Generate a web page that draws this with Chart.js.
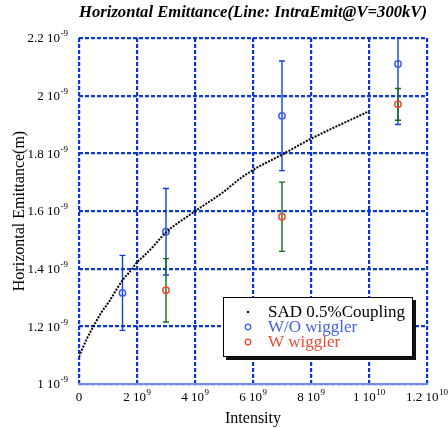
<!DOCTYPE html>
<html><head><meta charset="utf-8">
<script src="https://cdn.jsdelivr.net/npm/chart.js@4/dist/chart.umd.min.js"></script>
<style>html,body{margin:0;padding:0;background:#fff;}canvas{display:block;}</style>
</head><body>
<canvas id="c" width="448" height="428"></canvas>
<script>
// Units: x in 1e9, y in 1e-9 m
const titleText = 'Horizontal Emittance(Line: IntraEmit@V=300kV)';
const xAxisTitle = 'Intensity';
const yAxisTitle = 'Horizontal Emittance(m)';
const xTickValues = [0, 2, 4, 6, 8, 10, 12];
const xTickLabels = ['0', '2 10^9', '4 10^9', '6 10^9', '8 10^9', '1 10^10', '1.2 10^10'];
const yTickValues = [1.0, 1.2, 1.4, 1.6, 1.8, 2.0, 2.2];
const yTickLabels = ['1 10^-9', '1.2 10^-9', '1.4 10^-9', '1.6 10^-9', '1.8 10^-9', '2 10^-9', '2.2 10^-9'];

const sadLabel = 'SAD 0.5%Coupling';
const sadX = [0.0, 0.27, 0.47, 0.79, 1.04, 1.30, 1.53, 1.76, 1.99, 2.28, 2.56, 2.97, 3.94, 4.98, 5.55, 6.01, 6.99, 7.99, 9.98];
const sadY = [1.095, 1.157, 1.195, 1.251, 1.286, 1.329, 1.364, 1.390, 1.421, 1.448, 1.477, 1.523, 1.595, 1.666, 1.712, 1.743, 1.795, 1.850, 1.945];

const woLabel = 'W/O wiggler';
const woX = [1.5, 3, 7, 11];
const woY = [1.316, 1.528, 1.930, 2.110];
const woErr = [0.13, 0.15, 0.19, 0.21];

const wLabel = 'W wiggler';
const wX = [3, 7, 11];
const wY = [1.325, 1.580, 1.970];
const wErr = [0.11, 0.12, 0.055];

const FONT = "'Liberation Serif', 'Times New Roman', serif";
const gridBlue = '#0836d8';
const woColor = '#4060ee';
const wColor = '#f04a30';
const woBarColor = '#1040e0';
const wBarColor = '#127012';

const errorBars = {
  id: 'errorBars',
  beforeDatasetsDraw(chart) {
    const {ctx, chartArea: a, scales: {x, y}} = chart;
    ctx.save();
    ctx.beginPath();
    ctx.rect(a.left, a.top, a.right - a.left, a.bottom - a.top);
    ctx.clip();
    const draw = (xs, ys, es, color) => {
      ctx.strokeStyle = color;
      ctx.lineWidth = 1.4;
      xs.forEach((xv, i) => {
        const px = x.getPixelForValue(xv);
        const top = y.getPixelForValue(ys[i] + es[i]);
        const bot = y.getPixelForValue(ys[i] - es[i]);
        ctx.beginPath();
        ctx.moveTo(px, top); ctx.lineTo(px, bot);
        ctx.moveTo(px - 3, top); ctx.lineTo(px + 3, top);
        ctx.moveTo(px - 3, bot); ctx.lineTo(px + 3, bot);
        ctx.stroke();
      });
    };
    draw(woX, woY, woErr, woBarColor);
    draw(wX, wY, wErr, wBarColor);
    ctx.restore();
  }
};

// tick labels with real superscript exponents
const sciTicks = {
  id: 'sciTicks',
  afterDraw(chart) {
    const {ctx, scales: {x, y}} = chart;
    const big = '13px ' + FONT, small = '9px ' + FONT;
    const measure = (label) => {
      const [m, e] = label.split('^');
      ctx.font = big; const wm = ctx.measureText(m).width;
      let we = 0;
      if (e !== undefined) { ctx.font = small; we = ctx.measureText(e).width; }
      return {m, e, wm, we};
    };
    const drawLabel = (label, left, cy) => {
      const t = measure(label);
      ctx.font = big; ctx.fillText(t.m, left, cy);
      if (t.e !== undefined) { ctx.font = small; ctx.fillText(t.e, left + t.wm + 0.5, cy - 5); }
    };
    ctx.save();
    ctx.fillStyle = '#000';
    ctx.textBaseline = 'middle';
    ctx.textAlign = 'left';
    yTickValues.forEach((v, i) => {
      const t = measure(yTickLabels[i]);
      const w = t.wm + t.we + 0.5;
      drawLabel(yTickLabels[i], 68 - w, y.getPixelForValue(v) + 1);
    });
    xTickValues.forEach((v, i) => {
      const t = measure(xTickLabels[i]);
      const w = t.wm + (t.e !== undefined ? t.we + 0.5 : 0);
      drawLabel(xTickLabels[i], x.getPixelForValue(v) - w / 2, 398);
    });
    ctx.restore();
  }
};

const boxLegend = {
  id: 'boxLegend',
  afterDraw(chart) {
    const ctx = chart.ctx;
    const L = 223, T = 297, R = 413, B = 357;
    ctx.save();
    ctx.fillStyle = '#111';
    ctx.fillRect(L + 3, T + 3, R - L, B - T);
    ctx.fillStyle = '#fff';
    ctx.fillRect(L, T, R - L, B - T);
    ctx.strokeStyle = '#000';
    ctx.lineWidth = 1;
    ctx.strokeRect(L + 0.5, T + 0.5, R - L - 1, B - T - 1);
    ctx.font = '17px ' + FONT;
    ctx.textBaseline = 'middle';
    ctx.textAlign = 'left';
    const rows = [
      {label: chart.data.datasets[0].label, color: '#000', type: 'dot'},
      {label: chart.data.datasets[1].label, color: woColor, type: 'circle'},
      {label: chart.data.datasets[2].label, color: wColor, type: 'circle'}
    ];
    rows.forEach((r, i) => {
      const cy = 312 + i * 15;
      if (r.type === 'dot') {
        ctx.fillStyle = '#000';
        ctx.fillRect(247, cy - 1, 2, 2);
      } else {
        ctx.strokeStyle = r.color;
        ctx.lineWidth = 1.3;
        ctx.beginPath();
        ctx.arc(248, cy, 2.8, 0, Math.PI * 2);
        ctx.stroke();
      }
      ctx.fillStyle = r.color;
      ctx.fillText(r.label, 268, cy + 1);
    });
    ctx.restore();
  }
};

const gridOpts = {color: gridBlue, lineWidth: 2.2, drawTicks: false};

new Chart(document.getElementById('c'), {
  type: 'scatter',
  data: {
    datasets: [
      {
        label: sadLabel,
        data: sadX.map((v, i) => ({x: v, y: sadY[i]})),
        showLine: true,
        borderColor: '#000',
        borderWidth: 2,
        borderDash: [2, 1.3],
        pointRadius: 0,
        cubicInterpolationMode: 'monotone',
        fill: false
      },
      {
        label: woLabel,
        data: woX.map((v, i) => ({x: v, y: woY[i]})),
        pointStyle: 'circle',
        pointRadius: 3.2,
        borderColor: woColor,
        backgroundColor: 'rgba(0,0,0,0)',
        borderWidth: 1.5
      },
      {
        label: wLabel,
        data: wX.map((v, i) => ({x: v, y: wY[i]})),
        pointStyle: 'circle',
        pointRadius: 3.2,
        borderColor: wColor,
        backgroundColor: 'rgba(0,0,0,0)',
        borderWidth: 1.5
      }
    ]
  },
  options: {
    responsive: false,
    animation: false,
    layout: {padding: {left: 0, right: 21, top: 0, bottom: 0}},
    plugins: {
      legend: {display: false},
      tooltip: {enabled: false},
      title: {
        display: true,
        fullSize: false,
        text: titleText,
        color: '#000',
        font: {family: FONT, size: 17.5, weight: 'bold', style: 'italic'},
        padding: {top: 2, bottom: 15}
      }
    },
    scales: {
      x: {
        type: 'linear',
        position: 'bottom',
        min: 0, max: 12,
        afterBuildTicks: s => { s.ticks = xTickValues.map(v => ({value: v})); },
        afterFit: s => { s.height = 44; s.paddingLeft = 0; s.paddingRight = 0; },
        ticks: {display: true, callback: () => '', font: {size: 1}},
        grid: gridOpts,
        border: {display: true, color: '#6f8ef0', width: 2, dash: [4, 2]},
        title: {
          display: true, text: xAxisTitle, color: '#000',
          font: {family: FONT, size: 16}, padding: {top: 0, bottom: 0}
        }
      },
      y: {
        type: 'linear',
        position: 'left',
        min: 1.0, max: 2.2,
        afterBuildTicks: s => { s.ticks = yTickValues.map(v => ({value: v})); },
        afterFit: s => { s.width = 79; s.paddingTop = 0; s.paddingBottom = 0; },
        ticks: {display: true, callback: () => '', font: {size: 1}},
        grid: gridOpts,
        border: {display: false, dash: [4, 2]},
        title: {
          display: true, text: yAxisTitle, color: '#000',
          font: {family: FONT, size: 16}, padding: {top: 10, bottom: 0}
        }
      }
    }
  },
  plugins: [errorBars, sciTicks, boxLegend]
});
</script>
</body></html>
